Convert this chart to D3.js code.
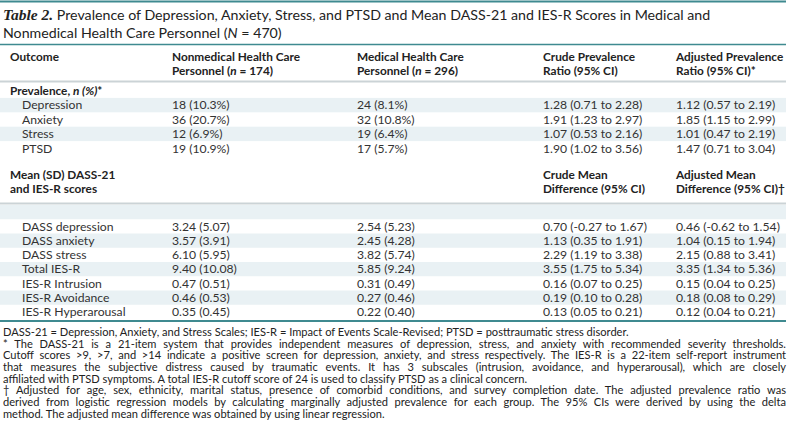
<!DOCTYPE html>
<html><head><meta charset="utf-8">
<script src="https://cdn.jsdelivr.net/npm/d3@7"></script>
<style>
html,body{margin:0;padding:0;background:#fff;}
svg{display:block;}
</style></head>
<body>
<svg id="chart" width="789" height="431"></svg>
<script>
// ---------- data ----------
const titleLabel = "Table 2.";
const titleLines = ["Prevalence of Depression, Anxiety, Stress, and PTSD and Mean DASS-21 and IES-R Scores in Medical and",
                    "Nonmedical Health Care Personnel (N = 470)"];
const columnHeaders = [
  ["Outcome"],
  ["Nonmedical Health Care", "Personnel (n = 174)"],
  ["Medical Health Care", "Personnel (n = 296)"],
  ["Crude Prevalence", "Ratio (95% CI)"],
  ["Adjusted Prevalence", "Ratio (95% CI)*"]
];
const prevalenceOutcomes = ["Depression", "Anxiety", "Stress", "PTSD"];
const prevalenceNonmedical = ["18 (10.3%)", "36 (20.7%)", "12 (6.9%)", "19 (10.9%)"];
const prevalenceMedical = ["24 (8.1%)", "32 (10.8%)", "19 (6.4%)", "17 (5.7%)"];
const prevalenceCrude = ["1.28 (0.71 to 2.28)", "1.91 (1.23 to 2.97)", "1.07 (0.53 to 2.16)", "1.90 (1.02 to 3.56)"];
const prevalenceAdjusted = ["1.12 (0.57 to 2.19)", "1.85 (1.15 to 2.99)", "1.01 (0.47 to 2.19)", "1.47 (0.71 to 3.04)"];
const scoreHeaders = [["Mean (SD) DASS-21", "and IES-R scores"], [], [], ["Crude Mean", "Difference (95% CI)"], ["Adjusted Mean", "Difference (95% CI)†"]];
const scoreOutcomes = ["DASS depression", "DASS anxiety", "DASS stress", "Total IES-R", "IES-R Intrusion", "IES-R Avoidance", "IES-R Hyperarousal"];
const scoreNonmedical = ["3.24 (5.07)", "3.57 (3.91)", "6.10 (5.95)", "9.40 (10.08)", "0.47 (0.51)", "0.46 (0.53)", "0.35 (0.45)"];
const scoreMedical = ["2.54 (5.23)", "2.45 (4.28)", "3.82 (5.74)", "5.85 (9.24)", "0.31 (0.49)", "0.27 (0.46)", "0.22 (0.40)"];
const scoreCrude = ["0.70 (-0.27 to 1.67)", "1.13 (0.35 to 1.91)", "2.29 (1.19 to 3.38)", "3.55 (1.75 to 5.34)", "0.16 (0.07 to 0.25)", "0.19 (0.10 to 0.28)", "0.13 (0.05 to 0.21)"];
const scoreAdjusted = ["0.46 (-0.62 to 1.54)", "1.04 (0.15 to 1.94)", "2.15 (0.88 to 3.41)", "3.35 (1.34 to 5.36)", "0.15 (0.04 to 0.25)", "0.18 (0.08 to 0.29)", "0.12 (0.04 to 0.21)"];
const footnotes = [
  {t: "DASS-21 = Depression, Anxiety, and Stress Scales; IES-R = Impact of Events Scale-Revised; PTSD = posttraumatic stress disorder.", j: false},
  {t: "* The DASS-21 is a 21-item system that provides independent measures of depression, stress, and anxiety with recommended severity thresholds.", j: true},
  {t: "Cutoff scores >9, >7, and >14 indicate a positive screen for depression, anxiety, and stress respectively. The IES-R is a 22-item self-report instrument", j: true},
  {t: "that measures the subjective distress caused by traumatic events. It has 3 subscales (intrusion, avoidance, and hyperarousal), which are closely", j: true},
  {t: "affiliated with PTSD symptoms. A total IES-R cutoff score of 24 is used to classify PTSD as a clinical concern.", j: false},
  {t: "† Adjusted for age, sex, ethnicity, marital status, presence of comorbid conditions, and survey completion date. The adjusted prevalence ratio was", j: true},
  {t: "derived from logistic regression models by calculating marginally adjusted prevalence for each group. The 95% CIs were derived by using the delta", j: true},
  {t: "method. The adjusted mean difference was obtained by using linear regression.", j: false}
];

// ---------- layout ----------
const W = 789;
const svg = d3.select("#chart");
const FONT = "Lato, 'Open Sans', sans-serif";
const TEAL = "#3f8a90";
const GRAY_LINE = "#cbd3d6";
const SHADE = "#e9f1f4";
const TXT = "#333";

const colX = d3.scaleOrdinal().domain([0,1,2,3,4]).range([10, 172, 357, 543, 676]);

const sec1Rows = ["__label__"].concat(prevalenceOutcomes);
const y1 = d3.scaleBand().domain(sec1Rows).range([83.5, 155.5]).padding(0);
const sec2Rows = ["__blank__"].concat(scoreOutcomes);
const y2 = d3.scaleBand().domain(sec2Rows).range([205, 319]).padding(0);

// shading (alternate rows starting with first data row)
svg.append("g").selectAll("rect").data(prevalenceOutcomes.filter((d,i)=>i%2===0))
  .join("rect").attr("x",0).attr("width",W-3).attr("y",d=>y1(d)).attr("height",y1.bandwidth()).attr("fill",SHADE);
svg.append("g").selectAll("rect").data(sec2Rows.filter((d,i)=>i%2===0))
  .join("rect").attr("x",0).attr("width",W-3).attr("y",d=>y2(d)).attr("height",y2.bandwidth()).attr("fill",SHADE);

// lines
const hline = (y, c, w) => svg.append("line").attr("x1",0).attr("x2",W-3).attr("y1",y).attr("y2",y).attr("stroke",c).attr("stroke-width",w);
hline(1.5, TEAL, 2);
hline(44.5, TEAL, 1.5);
hline(81.5, GRAY_LINE, 2);
hline(203.5, GRAY_LINE, 2);
hline(321, TEAL, 2);

// title
const title1 = svg.append("text").attr("x",3).attr("y",20).attr("font-family",FONT).attr("font-size",14.2).attr("fill","#222");
title1.append("tspan").attr("font-family","'Liberation Serif', serif").attr("font-weight","bold").attr("font-style","italic").attr("font-size",15.5).text(titleLabel);
title1.append("tspan").text(" " + titleLines[0]);
const title2 = svg.append("text").attr("x",3).attr("y",37.5).attr("font-family",FONT).attr("font-size",14.2).attr("fill","#222");
title2.append("tspan").text("Nonmedical Health Care Personnel (");
title2.append("tspan").attr("font-style","italic").text("N");
title2.append("tspan").text(" = 470)");

function richText(sel, str){
  const parts = str.split(/(\bn\b(?= =))/);
  parts.forEach(p => {
    if (p === "n") sel.append("tspan").attr("font-style","italic").text(p);
    else if (p) sel.append("tspan").text(p);
  });
}
const hdr = svg.append("g").attr("font-family",FONT).attr("font-weight","bold").attr("font-size",11.8).attr("fill","#222");
columnHeaders.forEach((lines, ci) => {
  lines.forEach((ln, li) => {
    const t = hdr.append("text").attr("x", colX(ci)).attr("y", 61 + li*14);
    richText(t, ln);
  });
});
scoreHeaders.forEach((lines, ci) => {
  lines.forEach((ln, li) => {
    hdr.append("text").attr("x", colX(ci)).attr("y", 179 + li*14).text(ln);
  });
});

const lab = hdr.append("text").attr("x",10).attr("y", y1("__label__") + y1.bandwidth()/2 + 4.2);
lab.append("tspan").text("Prevalence, ");
lab.append("tspan").attr("font-style","italic").text("n (%)");
lab.append("tspan").text("*");

const body = svg.append("g").attr("font-family",FONT).attr("font-size",12.2).attr("fill",TXT);
function drawRows(yScale, rows, cols){
  rows.forEach((r, i) => {
    const yy = yScale(r) + yScale.bandwidth()/2 + 4.3;
    body.append("text").attr("x", 22).attr("y", yy).text(r);
    cols.forEach((c, ci) => body.append("text").attr("x", colX(ci+1)).attr("y", yy).text(c[i]));
  });
}
drawRows(y1, prevalenceOutcomes, [prevalenceNonmedical, prevalenceMedical, prevalenceCrude, prevalenceAdjusted]);
drawRows(y2, scoreOutcomes, [scoreNonmedical, scoreMedical, scoreCrude, scoreAdjusted]);

const fn = svg.append("g").attr("font-family",FONT).attr("font-size",11.1).attr("fill","#222");
const RIGHT = 786, LEFT = 3;
footnotes.forEach((f, i) => {
  const t = fn.append("text").attr("x", LEFT).attr("y", 336 + i*11.65).attr("xml:space","preserve").text(f.t);
  if (f.j) {
    const w = t.node().getComputedTextLength();
    const spaces = (f.t.match(/ /g) || []).length;
    if (spaces > 0) t.attr("word-spacing", ((RIGHT - LEFT - w) / spaces).toFixed(3));
  }
});
</script>
</body></html>
